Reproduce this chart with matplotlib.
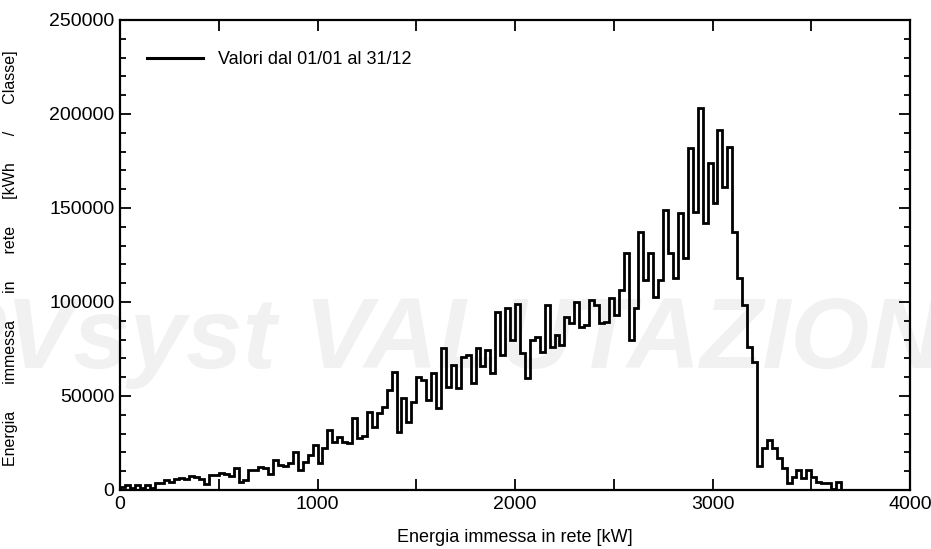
import matplotlib
matplotlib.use("Agg")
import matplotlib.pyplot as plt
import numpy as np
from matplotlib.ticker import MultipleLocator

# ---- data (25 kW classes, from 0 kW) ----
bin_width_kw = 25
energy_per_class = [
    1800, 2600, 900, 2600, 900, 2600, 1000, 3800, 3600, 5200,
    4200, 5600, 6200, 5800, 7200, 6800, 5600, 3300, 8200, 7800,
    8800, 8400, 7600, 11700, 4400, 5200, 10600, 10600, 12200, 11800,
    8300, 16000, 13500, 13000, 14200, 20000, 10600, 15000, 18600, 23900,
    14200, 22200, 31900, 25700, 28400, 25700, 24800, 38100, 27500, 28800,
    41700, 33700, 40800, 44300, 53200, 62900, 31000, 48800, 36300, 47000,
    60300, 58500, 47900, 62000, 43400, 75400, 55000, 66500, 54100, 70900,
    71800, 56700, 75400, 66000, 74500, 62000, 94800, 71800, 96600, 79800,
    98800, 72700, 59400, 79800, 81600, 73600, 98400, 76200, 82400, 77100,
    92200, 88700, 100200, 86900, 87800, 101000, 98400, 88700, 89500, 102000,
    93100, 106400, 125900, 79800, 96600, 137400, 111700, 125900, 102800, 111700,
    148900, 125900, 112600, 147200, 123200, 182000, 148000, 203000, 142000, 174000,
    152600, 191500, 161000, 182600, 137400, 112600, 98400, 76200, 68200, 12800,
    22200, 26600, 22200, 16800, 11500, 3500, 7100, 10600, 6200, 10600,
    7100, 4400, 3900, 3900, 500, 4400,
]
legend_label = "Valori dal 01/01 al 31/12"
x_label = "Energia immessa in rete [kW]"
y_label = "Energia      immessa      in      rete      [kWh      /      Classe]"
watermark = "PVsyst VALUTAZIONE"

edges = np.arange(len(energy_per_class) + 1) * bin_width_kw

W, H = 931, 549
fig = plt.figure(figsize=(W / 100, H / 100), dpi=100)
plt.rcParams['font.family'] = ['Liberation Sans', 'DejaVu Sans']

ax = fig.add_axes([120 / W, 1 - 490 / H, 790 / W, 470 / H])
ax.set_facecolor('none')
ax.set_zorder(1)

# watermark behind the axes
fig.text(-62 / W, 1 - 368 / H, watermark, fontsize=73, fontstyle='italic',
         fontweight='bold', color='#f1f1f1', ha='left', va='baseline',
         zorder=-5)

ax.stairs(energy_per_class, edges, baseline=0, color='black', linewidth=2.0,
          label=legend_label, zorder=3)

ax.set_xlim(0, 4000)
ax.set_ylim(0, 250000)
ax.xaxis.set_major_locator(MultipleLocator(1000))
ax.xaxis.set_minor_locator(MultipleLocator(500))
ax.yaxis.set_major_locator(MultipleLocator(50000))
ax.yaxis.set_minor_locator(MultipleLocator(10000))
ax.tick_params(which='both', direction='in', top=True, right=True,
               labelsize=14, width=1.3)
ax.tick_params(which='major', length=8, pad=4)
ax.tick_params(which='minor', length=4.5)
ax.tick_params(axis='x', which='minor', length=8)
for s in ax.spines.values():
    s.set_linewidth(1.6)

ax.set_xlabel(x_label, fontsize=13)
ax.xaxis.set_label_coords(0.5, -0.082)
ax.set_ylabel(y_label, fontsize=11.5)
ax.yaxis.set_label_coords(-0.129, 0.494)

leg = ax.legend(loc='upper left', frameon=False, fontsize=13,
                handlelength=3.1, handletextpad=0.8,
                bbox_to_anchor=(0.014, 0.968))
for l in leg.get_lines():
    l.set_linewidth(2.2)

fig.savefig("out.png", dpi=100)
